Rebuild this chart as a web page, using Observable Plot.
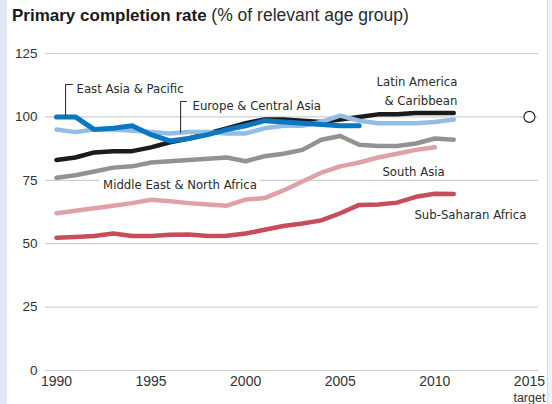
<!DOCTYPE html>
<html><head><meta charset="utf-8">
<script src="https://cdn.jsdelivr.net/npm/d3@7"></script>
<script src="https://cdn.jsdelivr.net/npm/@observablehq/plot@0.6"></script>
<style>
body{margin:0;background:#fff;width:552px;height:404px;overflow:hidden;position:relative;font-family:"Liberation Sans",Arial,sans-serif;}
#lstrip{position:absolute;left:0;top:0;width:7px;height:404px;background:#dfe8f4;}
#rstrip{position:absolute;right:0;top:0;width:4px;height:404px;background:#eef2f8;border-left:1px solid #d5dbe3;}
#title{height:32px;box-sizing:border-box;padding:5px 0 0 12px;font-size:17px;line-height:20px;color:#1a1a1a;white-space:nowrap;}
#title span{font-size:17.5px;color:#2a2a2a}
#chart svg{display:block}
</style></head>
<body>
<div id="lstrip"></div><div id="rstrip"></div>
<div id="title"><b>Primary completion rate</b> <span>(% of relevant age group)</span></div>
<div id="chart"></div>
<script>
const years = [1990,1991,1992,1993,1994,1995,1996,1997,1998,1999,2000,2001,2002,2003,2004,2005,2006,2007,2008,2009,2010,2011];
const subSaharanAfrica = [52.3,52.6,53,54,53,53,53.5,53.6,53,53.1,54,55.5,57,58,59.2,62,65.3,65.5,66.2,68.5,69.7,69.6];
const southAsia = [62,63,64,65,66,67.3,66.7,66,65.5,65,67.4,68,71,74.5,78,80.5,82,84,85.5,87,88];
const middleEastNorthAfrica = [76,77,78.5,80,80.5,82,82.5,83,83.5,84,82.5,84.5,85.5,87,91,92.5,89,88.5,88.5,89.5,91.5,91];
const latinAmericaCaribbean = [83,84,86,86.5,86.5,88,90,91.5,93.5,95.5,97.5,99,99,98.5,98,99,100,101,101,101.5,101.5,101.5];
const europeCentralAsia = [95,94,95,95,94.5,94,93.5,94,94,93.5,93.5,95.5,96.5,96.5,98,100.5,98.5,97.5,97.5,97.5,98,99];
const eastAsiaPacific = [100,100,95,95.5,96.5,93,90.5,91.5,93,95,96.5,98.5,98,97.5,97,96.5,96.5];
const yTicks = [0,25,50,75,100,125];
const xTicks = [1990,1995,2000,2005,2010,2015];
const targetYear = 2015;
const targetValue = 100;
const targetNote = "target";

const series = [
  {name:"Sub-Saharan Africa", values:subSaharanAfrica, color:"#c84c5c", width:4.5},
  {name:"South Asia", values:southAsia, color:"#e0a0a7", width:4.5},
  {name:"Middle East & North Africa", values:middleEastNorthAfrica, color:"#929292", width:4.5},
  {name:"Latin America & Caribbean", values:latinAmericaCaribbean, color:"#1b1b1b", width:4.5},
  {name:"Europe & Central Asia", values:europeCentralAsia, color:"#93bde5", width:4.5},
  {name:"East Asia & Pacific", values:eastAsiaPacific, color:"#0a77c2", width:5}
];

const labels = [
  {text:"East Asia & Pacific", year:1991.06, value:112.0, anchor:"start"},
  {text:"Europe & Central Asia", year:1997.19, value:105.3, anchor:"start"},
  {text:"Middle East & North Africa", year:1996.53, value:74.1, anchor:"middle"},
  {text:"Latin America\n& Caribbean", year:2011.19, value:110.7, anchor:"end"},
  {text:"South Asia", year:2007.23, value:78.9, anchor:"start"},
  {text:"Sub-Saharan Africa", year:2008.92, value:62.3, anchor:"start"}
];
const leaders = [
  {id:"ea", pts:[[1990.48,100.55],[1990.48,112.8],[1990.85,112.8]]},
  {id:"eca", pts:[[1996.56,93.85],[1996.56,106.1],[1996.87,106.1]]}
];
const leaderRows = leaders.flatMap(l => l.pts.map(p => ({id:l.id, year:p[0], value:p[1]})));

const narrow = '"Liberation Sans Narrow","DejaVu Sans Condensed",sans-serif';

const marks = [
  Plot.ruleY(yTicks, {stroke:"#cfcfcf", strokeWidth:1.2}),
  Plot.axisY({ticks:yTicks, tickSize:0, tickPadding:8, fontSize:13.5, tickFormat:d=>d, label:null}),
  Plot.axisX({ticks:xTicks, tickSize:0, tickPadding:6, fontSize:14, tickFormat:d=>String(d), label:null}),
  Plot.text([targetNote], {x:()=>targetYear, y:()=>0, dy:27, fontSize:12.5, text:d=>d})
];
for (const s of series) {
  const rows = s.values.map((v,i)=>({year:years[i], value:v}));
  marks.push(Plot.line(rows, {x:"year", y:"value", stroke:s.color, strokeWidth:s.width, strokeLinecap:"round", strokeLinejoin:"round"}));
}
marks.push(Plot.line(leaderRows, {x:"year", y:"value", z:"id", stroke:"#333", strokeWidth:1.1}));
for (const a of ["start","middle","end"]) {
  const sub = labels.filter(l=>l.anchor===a);
  marks.push(Plot.text(sub, {x:"year", y:"value", text:"text", textAnchor:a, fontSize:13, fontFamily:narrow, fill:"#2a2a2a", lineHeight:1.45,
    stroke: a==="middle" ? "white" : undefined, strokeWidth: a==="middle" ? 10 : undefined}));
}
marks.push(Plot.dot([{year:targetYear, value:targetValue}], {x:"year", y:"value", r:5.5, fill:"white", stroke:"#222", strokeWidth:1.2}));

const chart = Plot.plot({
  width:552, height:372,
  marginLeft:45, marginRight:14, marginTop:21, marginBottom:34,
  x:{domain:[1989.42,2015.48], axis:null},
  y:{domain:[0,125], axis:null},
  style:{fontFamily:'"Liberation Sans",Arial,sans-serif', color:"#333", background:"transparent", overflow:"visible"},
  marks
});
document.getElementById("chart").appendChild(chart);
</script>
</body></html>
